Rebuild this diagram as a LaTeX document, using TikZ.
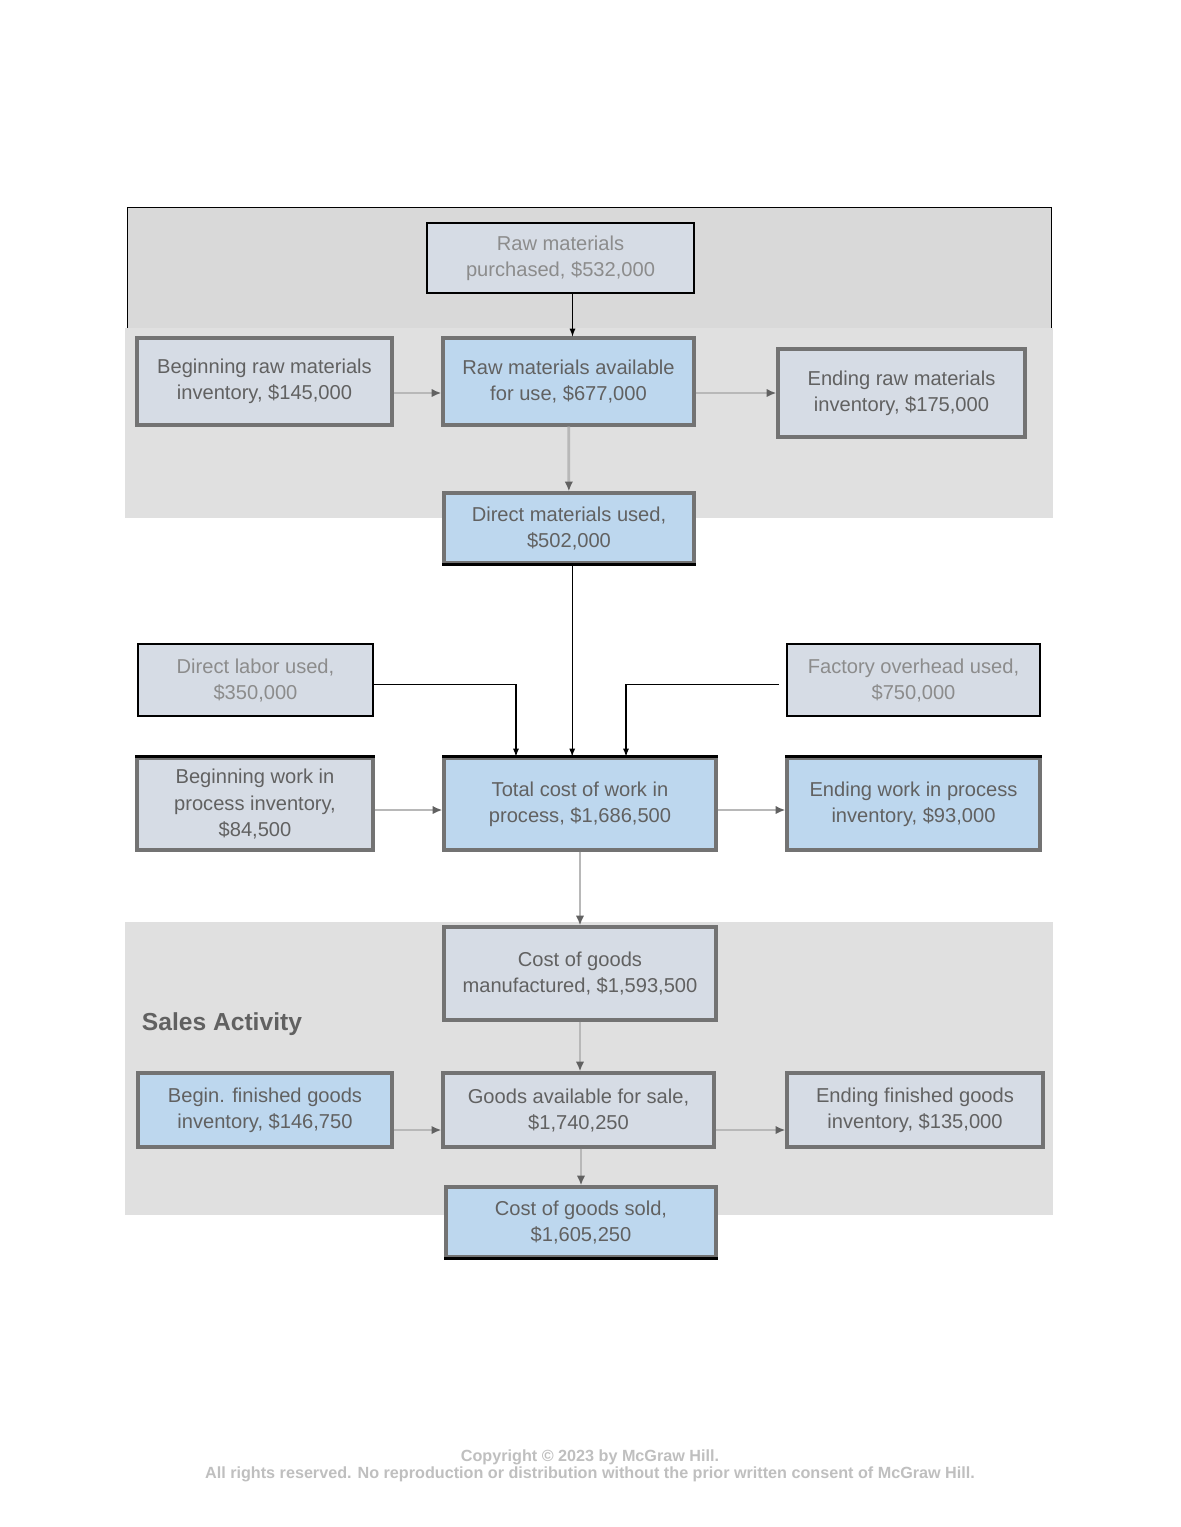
\documentclass[tikz,border=0pt]{standalone}
\usepackage{fontspec}
\setmainfont{Liberation Sans}
\usetikzlibrary{arrows,arrows.meta,positioning,calc}
\definecolor{panelgray}{HTML}{D9D9D9}
\definecolor{hazegray}{HTML}{E0E0E0}
\definecolor{boxgray}{HTML}{D6DCE5}
\definecolor{boxblue}{HTML}{BDD7EE}
\definecolor{textgray}{HTML}{8C8C8C}
\begin{document}
\begin{tikzpicture}[x=0.025cm,y=-0.025cm,
  box/.style={draw,rectangle,line width=1.6pt,fill=boxgray,text=textgray,align=center,
    font=\fontsize{14.3}{18.5}\selectfont,inner sep=0pt},
  hazy/.style={box,draw=black!55,line width=2.2pt,text=black!62},
  flow/.style={-latex,line width=0.9pt},
  hazyflow/.style={-{Latex[length=7pt,width=6pt,color=black!62]},line width=2pt,draw=black!28}]

        \useasboundingbox[fill=white] (0,0) rectangle (1180,1527);

        % shaded bands
        \fill[panelgray] (127,207) rectangle (1051,328);
        \draw[line width=0.6pt] (127,328) -- (127,207) -- (1051,207) -- (1051,328);
        \fill[hazegray] (125,328) rectangle (1053,518);
        \fill[hazegray] (125,922) rectangle (1053,1215);

        % raw materials
        \node[box,minimum width=6.675cm,minimum height=1.75cm] (rmp) at (560.5,258) {Raw materials\\purchased, \$532,000};
        \node[hazy,minimum width=6.375cm,minimum height=2.175cm] (begrm) at (264.5,381.5) {Beginning raw materials\\inventory, \$145,000};
        \node[hazy,fill=boxblue,minimum width=6.275cm,minimum height=2.175cm] (rmavail) at (568.5,381.5) {Raw materials available\\for use, \$677,000};
        \node[hazy,minimum width=6.175cm,minimum height=2.2cm] (endrm) at (901.5,393) {Ending raw materials\\inventory, \$175,000};
        \node[hazy,fill=boxblue,minimum width=6.25cm,minimum height=1.75cm] (dmused) at (569,528) {Direct materials used,\\\$502,000};

        % labor and overhead
        \node[box,minimum width=5.875cm,minimum height=1.8cm] (dlabor) at (255.5,680) {Direct labor used,\\\$350,000};
        \node[box,minimum width=6.325cm,minimum height=1.8cm] (foh) at (913.5,680) {Factory overhead used,\\\$750,000};

        % work in process
        \node[hazy,minimum width=5.9cm,minimum height=2.3cm] (begwip) at (255,804) {Beginning work in\\process inventory,\\\$84,500};
        \node[hazy,fill=boxblue,minimum width=6.8cm,minimum height=2.3cm] (wip) at (580,804) {Total cost of work in\\process, \$1,686,500};
        \node[hazy,fill=boxblue,minimum width=6.325cm,minimum height=2.3cm] (endwip) at (913.5,804) {Ending work in process\\inventory, \$93,000};

        % finished goods
        \node[hazy,minimum width=6.8cm,minimum height=2.325cm] (cogm) at (580,973.5) {Cost of goods\\manufactured, \$1,593,500};
        \node[anchor=west,text=black!62,font=\bfseries\fontsize{17.5}{20}\selectfont] (sales) at (137,1024) {Sales Activity};
        \node[hazy,fill=boxblue,minimum width=6.35cm,minimum height=1.85cm] (begfg) at (265,1110) {Begin. finished goods\\inventory, \$146,750};
        \node[hazy,minimum width=6.775cm,minimum height=1.85cm] (gafs) at (578.5,1110) {Goods available for sale,\\\$1,740,250};
        \node[hazy,minimum width=6.4cm,minimum height=1.85cm] (endfg) at (915,1110) {Ending finished goods\\inventory, \$135,000};
        \node[hazy,fill=boxblue,minimum width=6.75cm,minimum height=1.75cm] (cogs) at (581,1222) {Cost of goods sold,\\\$1,605,250};

        % crisp box edges
        \foreach \n in {begwip,wip,endwip}
          \draw[line width=1.6pt] (\n.north west) -- (\n.north east);
        \foreach \n in {dmused,cogs}
          \draw[line width=1.6pt] (\n.south west) -- (\n.south east);

        % connectors
        \draw[flow] ([xshift=0.1cm]rmavail.north |- rmp.south) -- ([xshift=0.1cm]rmavail.north);
        \draw[hazyflow] (begrm.east |- endrm) -- (rmavail.west |- endrm);
        \draw[hazyflow] (rmavail.east |- endrm) -- (endrm.west);
        \draw[hazyflow] (rmavail) -- (dmused);
        \draw[flow] ([xshift=0.08cm]dmused.south) -- ([xshift=0.08cm]dmused.south |- wip.north);
        \draw[flow] ([yshift=-0.12cm]dlabor.east) -| ([xshift=-1.6cm]wip.north);
        \draw[flow] ([xshift=-0.18cm,yshift=-0.12cm]foh.west) -| ([xshift=1.15cm]wip.north);
        \draw[hazyflow] ([yshift=-0.15cm]begwip.east) -- ([yshift=-0.15cm]wip.west);
        \draw[hazyflow] ([yshift=-0.15cm]wip.east) -- ([yshift=-0.15cm]endwip.west);
        \draw[hazyflow] (wip) -- (cogm);
        \draw[hazyflow] (cogm) -- (cogm |- gafs.north);
        \draw[hazyflow] ([yshift=-0.5cm]begfg.east) -- ([yshift=-0.5cm]gafs.west);
        \draw[hazyflow] ([yshift=-0.5cm]gafs.east) -- ([yshift=-0.5cm]endfg.west);
        \draw[hazyflow] (cogs.north |- gafs.south) -- (cogs.north);

        \node[text=black!25,align=center,font=\bfseries\fontsize{11.5}{12.2}\selectfont] (rights) at (590,1466)
          {Copyright © 2023 by McGraw Hill.\\All rights reserved. No reproduction or distribution without the prior written consent of McGraw Hill.};
      \end{tikzpicture}
\end{document}
